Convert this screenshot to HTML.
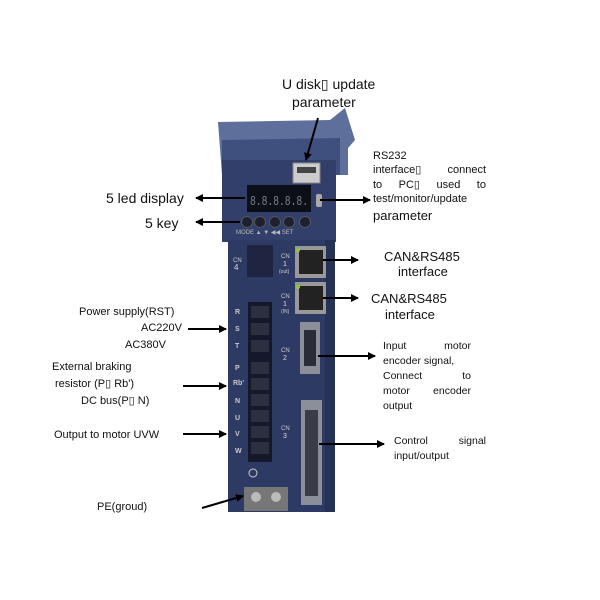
<!DOCTYPE html>
<html><head><meta charset="utf-8"><style>
body{margin:0;width:600px;height:600px;background:#fff;position:relative;overflow:hidden;font-family:"Liberation Sans",sans-serif;color:#111}
.t{position:absolute;white-space:nowrap;line-height:1}
.j{position:absolute;display:flex;justify-content:space-between;white-space:nowrap;line-height:1}
svg{position:absolute;left:0;top:0}
</style></head><body>
<svg width="600" height="600" viewBox="0 0 600 600">
<defs><marker id="a" markerWidth="8" markerHeight="8" refX="7" refY="4" orient="auto" markerUnits="userSpaceOnUse"><path d="M0,0 L8,4 L0,8 z" fill="#000"/></marker></defs>
<path d="M218,122 L330,120 L345,108 L355,140 L348,148 L348,175 L222,175 Z" fill="#5e6f9b"/>
<path d="M222,140 L340,138 L340,175 L222,175 Z" fill="#40507e"/>
<rect x="222" y="160" width="114" height="82" fill="#323f6a"/>
<rect x="228" y="240" width="107" height="272" fill="#2d3a63"/>
<rect x="325" y="240" width="10" height="272" fill="#253155"/>
<rect x="293" y="163" width="27" height="20" fill="#ccc" stroke="#888"/>
<rect x="297" y="167" width="19" height="6" fill="#444"/>
<rect x="247" y="185" width="64" height="27" fill="#0d0f18"/>
<text x="250" y="205" font-size="14" fill="#7c8088" font-family="Liberation Mono" textLength="58" lengthAdjust="spacingAndGlyphs">8.8.8.8.8.</text>
<rect x="316" y="194" width="6" height="13" fill="#aaa" rx="2"/>
<g fill="#1c2030" stroke="#555"><circle cx="247" cy="222" r="5.5"/><circle cx="260" cy="222" r="5.5"/><circle cx="275" cy="222" r="5.5"/><circle cx="289" cy="222" r="5.5"/><circle cx="305" cy="222" r="5.5"/></g>
<text x="236" y="234" font-size="6" fill="#bbb">MODE ▲   ▼  ◀◀  SET</text>
<rect x="247" y="245" width="26" height="32" fill="#1f2540"/>
<text x="233" y="262" font-size="6" fill="#ccc">CN</text><text x="234" y="270" font-size="8" fill="#ddd">4</text>
<rect x="295" y="246" width="31" height="32" fill="#999"/><rect x="299" y="250" width="24" height="24" fill="#222"/>
<rect x="295" y="282" width="31" height="32" fill="#999"/><rect x="299" y="286" width="24" height="24" fill="#222"/>
<circle cx="298" cy="250" r="2" fill="#8c3"/><circle cx="298" cy="287" r="2" fill="#8c3"/>
<text x="281" y="258" font-size="6" fill="#ccc">CN</text><text x="283" y="266" font-size="7" fill="#ddd">1</text><text x="279" y="273" font-size="5" fill="#ccc">(out)</text>
<text x="281" y="298" font-size="6" fill="#ccc">CN</text><text x="283" y="306" font-size="7" fill="#ddd">1</text><text x="281" y="313" font-size="5" fill="#ccc">(IN)</text>
<rect x="248" y="302" width="24" height="160" fill="#15182a"/>
<g fill="#2b2f40"><rect x="251" y="306" width="18" height="12"/><rect x="251" y="323" width="18" height="12"/><rect x="251" y="340" width="18" height="12"/><rect x="251" y="362" width="18" height="12"/><rect x="251" y="378" width="18" height="12"/><rect x="251" y="394" width="18" height="12"/><rect x="251" y="410" width="18" height="12"/><rect x="251" y="426" width="18" height="12"/><rect x="251" y="442" width="18" height="12"/></g>
<g font-size="7" fill="#ccc" font-weight="bold"><text x="235" y="314">R</text><text x="235" y="331">S</text><text x="235" y="348">T</text><text x="235" y="370">P</text><text x="233" y="385">Rb'</text><text x="235" y="403">N</text><text x="235" y="420">U</text><text x="235" y="436">V</text><text x="235" y="453">W</text></g>
<circle cx="253" cy="473" r="4" fill="none" stroke="#ccc"/>
<rect x="300" y="322" width="20" height="52" fill="#8a8f9a"/><rect x="304" y="330" width="12" height="36" fill="#2a2d36"/>
<text x="281" y="352" font-size="6" fill="#ccc">CN</text><text x="283" y="360" font-size="7" fill="#ddd">2</text>
<rect x="301" y="400" width="21" height="105" fill="#8a8f9a"/><rect x="305" y="410" width="13" height="86" fill="#3a3d46"/>
<text x="281" y="430" font-size="6" fill="#ccc">CN</text><text x="283" y="438" font-size="7" fill="#ddd">3</text>
<rect x="244" y="487" width="44" height="24" fill="#777"/><circle cx="256" cy="497" r="5" fill="#bbb"/><circle cx="276" cy="497" r="5" fill="#bbb"/>
<g stroke="#000" stroke-width="2" marker-end="url(#a)">
<line x1="318" y1="118" x2="306" y2="160"/>
<line x1="245" y1="198" x2="196" y2="198"/>
<line x1="240" y1="222" x2="196" y2="222"/>
<line x1="320" y1="200" x2="370" y2="200"/>
<line x1="323" y1="260" x2="358" y2="260"/>
<line x1="323" y1="298" x2="358" y2="298"/>
<line x1="318" y1="356" x2="375" y2="356"/>
<line x1="319" y1="444" x2="384" y2="444"/>
<line x1="188" y1="329" x2="226" y2="329"/>
<line x1="183" y1="386" x2="226" y2="386"/>
<line x1="183" y1="434" x2="226" y2="434"/>
<line x1="202" y1="508" x2="243" y2="496" marker-end=""/>
</g>
</svg>
<div class="t" style="left:282px;top:77px;font-size:14px">U disk▯ update</div>
<div class="t" style="left:292px;top:95px;font-size:14px">parameter</div>
<div class="t" style="left:106px;top:191px;font-size:14px">5 led display</div>
<div class="t" style="left:145px;top:216px;font-size:14px">5 key</div>
<div class="t" style="left:373px;top:151px;font-size:11px">RS232</div>
<div class="j" style="left:373px;top:165px;width:113px;font-size:11px"><span>interface▯</span><span>connect</span></div>
<div class="j" style="left:373px;top:180px;width:113px;font-size:11px"><span>to</span><span>PC▯</span><span>used</span><span>to</span></div>
<div class="j" style="left:373px;top:194px;width:113px;font-size:11px"><span>test/monitor/update</span></div>
<div class="t" style="left:373px;top:209px;font-size:13px">parameter</div>
<div class="t" style="left:384px;top:250px;font-size:13px">CAN&amp;RS485</div>
<div class="t" style="left:398px;top:265px;font-size:13px">interface</div>
<div class="t" style="left:371px;top:292px;font-size:13px">CAN&amp;RS485</div>
<div class="t" style="left:385px;top:308px;font-size:13px">interface</div>
<div class="j" style="left:383px;top:341px;width:88px;font-size:10.5px"><span>Input</span><span>motor</span></div>
<div class="t" style="left:383px;top:356px;font-size:10.5px">encoder signal,</div>
<div class="j" style="left:383px;top:371px;width:88px;font-size:10.5px"><span>Connect</span><span>to</span></div>
<div class="j" style="left:383px;top:386px;width:88px;font-size:10.5px"><span>motor</span><span>encoder</span></div>
<div class="t" style="left:383px;top:401px;font-size:10.5px">output</div>
<div class="j" style="left:394px;top:436px;width:92px;font-size:10.5px"><span>Control</span><span>signal</span></div>
<div class="t" style="left:394px;top:451px;font-size:10.5px">input/output</div>
<div class="t" style="left:79px;top:307px;font-size:11px">Power supply(RST)</div>
<div class="t" style="left:141px;top:323px;font-size:11px">AC220V</div>
<div class="t" style="left:125px;top:340px;font-size:11px">AC380V</div>
<div class="t" style="left:52px;top:362px;font-size:11px">External braking</div>
<div class="t" style="left:55px;top:379px;font-size:11px">resistor (P▯ Rb')</div>
<div class="t" style="left:81px;top:396px;font-size:11px">DC bus(P▯ N)</div>
<div class="t" style="left:54px;top:430px;font-size:11px">Output to motor UVW</div>
<div class="t" style="left:97px;top:502px;font-size:11px">PE(groud)</div>
</body></html>
